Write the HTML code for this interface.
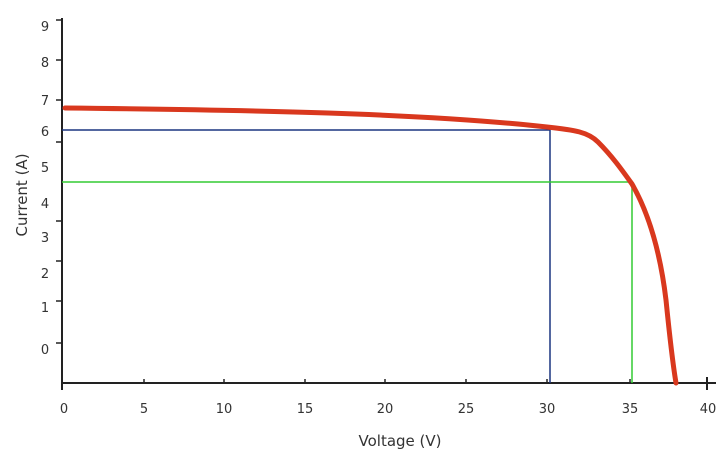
<!DOCTYPE html>
<html><head><style>body{margin:0;background:#fff}svg{display:block}text{font-family:"DejaVu Sans","Liberation Sans",sans-serif;fill:#333}</style></head>
<body><svg width="720" height="459" viewBox="0 0 720 459">
<g stroke="#222" stroke-width="2">
<line x1="62" y1="18" x2="62" y2="390"/>
<line x1="62" y1="383" x2="716" y2="383"/>
<line x1="707" y1="377" x2="707" y2="390"/>
</g>
<g stroke="#222" stroke-width="1.5">
<line x1="56" y1="20" x2="62" y2="20"/><line x1="56" y1="60" x2="62" y2="60"/><line x1="56" y1="100" x2="62" y2="100"/><line x1="56" y1="142" x2="62" y2="142"/><line x1="56" y1="221" x2="62" y2="221"/><line x1="56" y1="261" x2="62" y2="261"/><line x1="56" y1="301" x2="62" y2="301"/><line x1="56" y1="343" x2="62" y2="343"/>
<line x1="144" y1="379" x2="144" y2="383"/><line x1="224" y1="379" x2="224" y2="383"/><line x1="305" y1="379" x2="305" y2="383"/><line x1="385" y1="379" x2="385" y2="383"/><line x1="466" y1="379" x2="466" y2="383"/><line x1="547" y1="379" x2="547" y2="383"/><line x1="630" y1="379" x2="630" y2="383"/>
</g>
<g font-size="13" text-anchor="middle">
<text x="45" y="31">9</text><text x="45" y="67">8</text><text x="45" y="105">7</text><text x="45" y="136">6</text><text x="45" y="172">5</text><text x="45" y="208">4</text><text x="45" y="242">3</text><text x="45" y="278">2</text><text x="45" y="312">1</text><text x="45" y="354">0</text>
<text x="64" y="413">0</text><text x="144" y="413">5</text><text x="224" y="413">10</text><text x="305" y="413">15</text><text x="385" y="413">20</text><text x="466" y="413">25</text><text x="547" y="413">30</text><text x="630" y="413">35</text><text x="708" y="413">40</text>
</g>
<text x="400" y="446" font-size="15" text-anchor="middle">Voltage (V)</text>
<text transform="translate(27,195) rotate(-90)" font-size="15" text-anchor="middle">Current (A)</text>
<polyline points="62,130 550,130 550,383" fill="none" stroke="#1b3580" stroke-width="1.5"/>
<polyline points="62,182 632,182 632,383" fill="none" stroke="#33cc33" stroke-width="1.5"/>
<path d="M65,108 C250,110 420,113 547,127 C575,130 588,132 598,142 C612,156 622,170 632,184 C648,212 660,250 666,300 C670,340 673,365 676,383" fill="none" stroke="#d9381e" stroke-width="5" stroke-linecap="round" stroke-linejoin="round"/>
</svg></body></html>
